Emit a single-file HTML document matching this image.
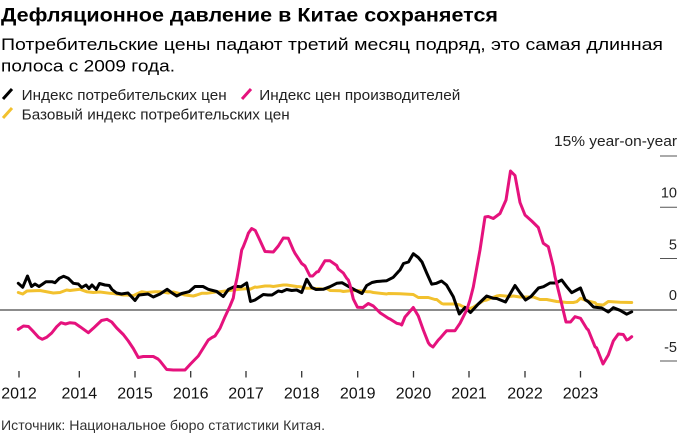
<!DOCTYPE html>
<html>
<head>
<meta charset="utf-8">
<style>
html,body{margin:0;padding:0;background:#fff;}
svg{display:block;}
text{font-family:"Liberation Sans",Arial,sans-serif;}
</style>
</head>
<body>
<svg width="681" height="437" viewBox="0 0 681 437" xmlns="http://www.w3.org/2000/svg">
<rect width="681" height="437" fill="#fff"/>
<!-- Title / subtitle -->
<text x="1" y="21.7" font-size="19" font-weight="bold" fill="#000" textLength="497" lengthAdjust="spacingAndGlyphs">Дефляционное давление в Китае сохраняется</text>
<text x="1" y="50" font-size="17" fill="#000" textLength="662" lengthAdjust="spacingAndGlyphs">Потребительские цены падают третий месяц подряд, это самая длинная</text>
<text x="1" y="71.7" font-size="17" fill="#000" textLength="174" lengthAdjust="spacingAndGlyphs">полоса с 2009 года.</text>

<!-- Legend -->
<line x1="3" y1="99" x2="12" y2="89" stroke="#000" stroke-width="3"/>
<text x="21.7" y="100" font-size="14.5" fill="#222" textLength="205" lengthAdjust="spacingAndGlyphs">Индекс потребительских цен</text>
<line x1="242" y1="99" x2="251" y2="89" stroke="#e5127d" stroke-width="3"/>
<text x="259.3" y="100" font-size="14.5" fill="#222" textLength="201" lengthAdjust="spacingAndGlyphs">Индекс цен производителей</text>
<line x1="3" y1="118" x2="12" y2="108" stroke="#f2c12e" stroke-width="3"/>
<text x="21.7" y="119.3" font-size="14.5" fill="#222" textLength="268" lengthAdjust="spacingAndGlyphs">Базовый индекс потребительских цен</text>

<!-- Y axis gridline ticks & labels -->
<text x="677" y="146" font-size="15" fill="#222" text-anchor="end" textLength="123" lengthAdjust="spacingAndGlyphs">15% year-on-year</text>
<g stroke="#555" stroke-width="1">
<line x1="660" y1="156" x2="677" y2="156"/>
<line x1="660" y1="207.3" x2="677" y2="207.3"/>
<line x1="660" y1="258.5" x2="677" y2="258.5"/>
<line x1="660" y1="361" x2="677" y2="361"/>
</g>
<g font-size="14.5" fill="#222" text-anchor="end">
<text x="677" y="197.7">10</text>
<text x="677" y="249.3">5</text>
<text x="677" y="300">0</text>
<text x="677" y="352">-5</text>
</g>

<!-- Zero line -->
<line x1="0" y1="310" x2="677" y2="310" stroke="#8c8c8c" stroke-width="2"/>

<!-- X ticks -->
<g stroke="#333" stroke-width="1.3">
<line x1="19" y1="371" x2="19" y2="377.5"/>
<line x1="79.3" y1="371" x2="79.3" y2="377.5"/>
<line x1="135" y1="371" x2="135" y2="377.5"/>
<line x1="190.7" y1="371" x2="190.7" y2="377.5"/>
<line x1="246" y1="371" x2="246" y2="377.5"/>
<line x1="301.7" y1="371" x2="301.7" y2="377.5"/>
<line x1="357.7" y1="371" x2="357.7" y2="377.5"/>
<line x1="413.5" y1="371" x2="413.5" y2="377.5"/>
<line x1="469" y1="371" x2="469" y2="377.5"/>
<line x1="525" y1="371" x2="525" y2="377.5"/>
<line x1="580.5" y1="371" x2="580.5" y2="377.5"/>
</g>
<g font-size="16" fill="#111" text-anchor="middle">
<text x="19" y="398.3">2012</text>
<text x="79.3" y="398.3">2014</text>
<text x="135" y="398.3">2015</text>
<text x="190.7" y="398.3">2016</text>
<text x="246" y="398.3">2017</text>
<text x="301.7" y="398.3">2018</text>
<text x="357.7" y="398.3">2019</text>
<text x="413.5" y="398.3">2020</text>
<text x="469" y="398.3">2021</text>
<text x="525" y="398.3">2022</text>
<text x="580.5" y="398.3">2023</text>
</g>

<!-- Series -->
<g fill="none" stroke-linejoin="round" stroke-linecap="round" stroke-width="3">
<polyline stroke="#f2c12e" points="18.3,292.5 22.7,294 27,291 40,290.5 53.3,293 60,292.5 66.7,290 70,290.5 80,289.3 86.7,291.7 93.3,292.5 100,292 110,293.3 113.3,293.5 123.3,295 126.7,295 133.3,295.7 136.7,294 141.7,291.7 146.7,292.5 155,291.7 160,291.7 168.3,293 173.3,292 185,295 193.3,296 196.7,295 201.7,293.3 206.7,293.3 218.3,291.7 220,291.7 233.3,290 240,289.3 248.3,288.5 250,289.3 255,287 256.7,287.3 265,286 270,286 273.3,286.5 283.3,285 286.7,285 296.7,286.5 300,286.7 306.7,288.3 311.7,288.3 323.3,289 326.7,288.5 330,290.5 340,290.7 343.3,291.5 350,290.7 356.7,290.5 360,290.7 366.7,291.7 370,291.7 373.3,292.5 386.7,294 388.3,293.5 400,293.7 413.3,294.5 418.3,297.5 428.3,297.5 435,299.5 436.7,299.5 441.7,303.5 443.3,304 455,304 460,305 461.7,306 465,307.3 468.3,309 473.3,307.3 483.3,300.7 486.7,300 496.7,296 500,295.5 510,296.5 513.3,296 520,297 533.3,297 540,299.5 546.7,299.5 556.7,301.5 560,301.7 566.7,302.5 573.3,302.5 576.7,301.7 580.5,298.3 586.7,300.7 595,302.7 596.7,304.5 603.3,305 608.3,301.5 620,302.2 631.7,302.5"/>
<polyline stroke="#000" points="18.3,283.3 22.7,287.3 27.5,276 31.5,286.5 35,284 39,286.5 42,284.5 46,281.7 52,281.7 55,282.7 59.3,278.3 63.5,276.3 68.3,278.3 73.3,283.3 78.3,284 81.7,287.5 86,285 89,288.5 92,285 96.3,289.5 99.5,283.5 105,285 109.3,285.5 112,289.5 116.5,293 121.5,294 128,293 131.5,296.7 135,300.5 139,295 148,294 153.3,297 160,294 167.2,289.3 171.7,292.7 176.7,296 181.7,293.5 189,291.7 195,286.5 203,286.5 208.3,289.3 216.7,291.5 223.3,296.5 228.3,289.5 235,286.3 241,286.8 246.7,283 250.5,301.5 255,300 263.3,294.5 268,295 272,295 278.3,291 281.7,291.7 286.7,289.5 291.7,290.5 296.7,290 301.7,292.5 306.7,279.3 311.7,287.5 316,289.5 323.3,289.3 330,286.7 336.7,283.3 342,282.7 348.3,286.3 355,290 362,293.5 366.7,285.5 372,282.5 376.7,281.5 386.7,280.7 393.3,277.3 398.3,271.7 400,270 403.5,263.5 408.5,262 413.3,253.7 418.3,257.5 422,262 426.7,273 431.7,284.2 436.5,283.3 441.5,281 446.5,285 453.3,296.7 459.3,314 465,307.5 470.5,312.5 478.3,304 486.7,296 493.3,298.3 496.7,298.5 505.5,302 515,285.5 520,292.7 525.5,300 531,296.5 538.5,288 543.5,286.7 550,283 556,283 561.7,280 566.7,286.7 571.7,292.7 576.7,290 580.5,288 585,299.5 588.3,301.7 593.5,307 601.7,308 608.3,312 613.3,307.7 620,310.3 626.7,314.2 631.7,311.8"/>
<polyline stroke="#e5127d" points="18.3,329.3 23.5,326 28.5,326.5 33.5,331.7 38.5,337.3 42.3,339.3 46.7,337.3 51.7,333 56.7,326.7 61,322.7 65.5,324 70,322.7 75,323.3 80,326.7 88.3,332.7 93.3,328.3 97.3,324.5 101.5,320.5 107,319.3 111.7,322 116.7,328 123.3,334.5 128.3,341 133.3,348.5 138.3,357.5 143.3,356.5 153.3,356.5 158,359 160,361 166.7,369.5 173.3,370 185,370 190.5,364 198.3,356 203.3,348 208.3,340 212,337.5 215,336 220,328.3 225,316.7 230,306 233.3,298 235,287 237,278 239,266.7 241.7,250 243.3,246.7 246.7,238 248.3,233.3 251.7,228.5 255.3,230.5 260,240.5 265,251.5 273.3,252 278.3,246 283.3,238 288.3,238.3 293.3,250 295,253.3 298.3,258.3 301.7,263.5 305,266 310,276 312.7,276 316.7,272 318.3,271.7 325,260.7 330,260.8 336.7,265.5 338.3,269 343.3,273 346.7,278.3 348.3,280 350,285 353.3,299 357.5,307.3 363,307.5 368.3,303.5 373.3,306 380,312.7 388.3,318.3 390,319 396.7,323.3 400,324 401.7,325 405,317 408.5,313 413.3,307.5 418.3,316 423.3,330 428.3,342.7 430,345 433,347 438.3,340 440,338.3 445,332.5 446.7,330.7 455,330.7 460,323.3 465,313.3 466.7,310 470,300 473.3,287 480,250 485,217 488.3,216.5 493.3,218.5 500,213.5 506,200 510.5,171 515,175.5 520,202.5 525,215 531.7,221 538.3,227.5 543.3,243.3 548.3,246.7 553.3,266.7 555,276.7 560,297 566,322 570.5,322 575,316.7 580.5,318.3 586.7,328.5 588.3,330 595,346.7 596.7,348 603,364 608.3,355 613.3,341 618.3,334 623.3,334.5 626.7,340 628.3,339.5 631.7,336.7"/>
</g>

<!-- Source -->
<text x="1" y="430" font-size="14" fill="#333" textLength="324" lengthAdjust="spacingAndGlyphs">Источник: Национальное бюро статистики Китая.</text>
</svg>
</body>
</html>
